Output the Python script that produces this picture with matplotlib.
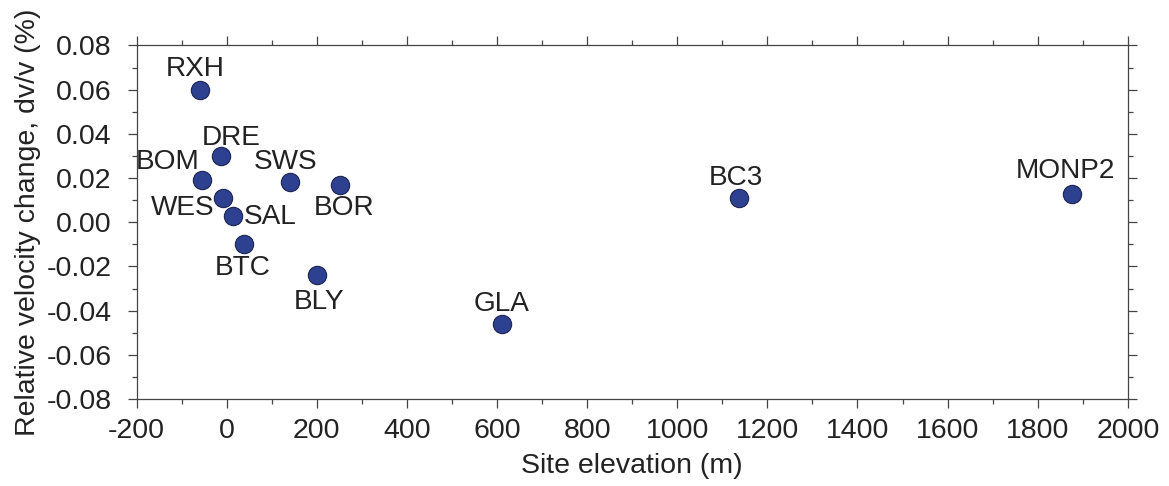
import matplotlib
matplotlib.use('Agg')
import matplotlib.pyplot as plt
from matplotlib.ticker import MultipleLocator, FormatStrFormatter

plt.rcParams['font.family'] = ['Liberation Sans', 'DejaVu Sans']
plt.rcParams['axes.unicode_minus'] = False

# station name, elevation (m), dv/v (%)
stations = ['RXH', 'DRE', 'BOM', 'SWS', 'BOR', 'WES', 'SAL', 'BTC', 'BLY', 'GLA', 'BC3', 'MONP2']
elev = [-60, -13, -54, 140, 252, -8, 15, 38, 201, 610, 1137, 1875]
dvv = [0.060, 0.030, 0.019, 0.018, 0.017, 0.011, 0.003, -0.010, -0.024, -0.046, 0.011, 0.013]

# label placement (pixel offsets from the marker, horizontal alignment)
offsets = {
    'RXH': (-4, 14, 'center'),
    'DRE': (10, 11, 'center'),
    'BOM': (-3, 11, 'right'),
    'SWS': (-4, 13, 'center'),
    'BOR': (4, -30, 'center'),
    'WES': (-9, -17, 'right'),
    'SAL': (10, -8, 'left'),
    'BTC': (-1, -31, 'center'),
    'BLY': (2, -34, 'center'),
    'GLA': (0, 13, 'center'),
    'BC3': (-3, 13, 'center'),
    'MONP2': (-6, 16, 'center'),
}

fig = plt.figure(figsize=(11.69, 4.86), dpi=100)
ax = fig.add_axes([0.1168, 0.179, 0.848, 0.7274])

ax.plot(elev, dvv, 'o', ms=13.2, mfc='#2e4090', mec='#1c2450', mew=0.8, zorder=3)

for name, x, y in zip(stations, elev, dvv):
    dx, dy, ha = offsets[name]
    ax.annotate(name, (x, y), xytext=(dx, dy), textcoords='offset pixels',
                ha=ha, va='baseline', fontsize=20.2, color='#222222')

ax.set_xlim(-200, 2000)
ax.set_ylim(-0.08, 0.08)
ax.xaxis.set_major_locator(MultipleLocator(200))
ax.xaxis.set_minor_locator(MultipleLocator(100))
ax.yaxis.set_major_locator(MultipleLocator(0.02))
ax.yaxis.set_minor_locator(MultipleLocator(0.01))
ax.yaxis.set_major_formatter(FormatStrFormatter('%.2f'))

ax.tick_params(which='both', direction='out', top=True, right=True,
               color='#444444', width=0.9, labelsize=20.5, labelcolor='#222222')
ax.tick_params(which='major', length=6.5)
ax.tick_params(which='minor', length=3.6)
ax.tick_params(axis='x', which='major', pad=7)
ax.tick_params(axis='y', which='major', pad=11.5)
for sp in ax.spines.values():
    sp.set_color('#444444')
    sp.set_linewidth(0.9)

ax.set_xlabel('Site elevation (m)', fontsize=20.5, color='#222222', labelpad=7)
ax.set_ylabel('Relative velocity change, dv/v (%)', fontsize=20.5, color='#222222', labelpad=4)

fig.savefig('out.png', dpi=100)
